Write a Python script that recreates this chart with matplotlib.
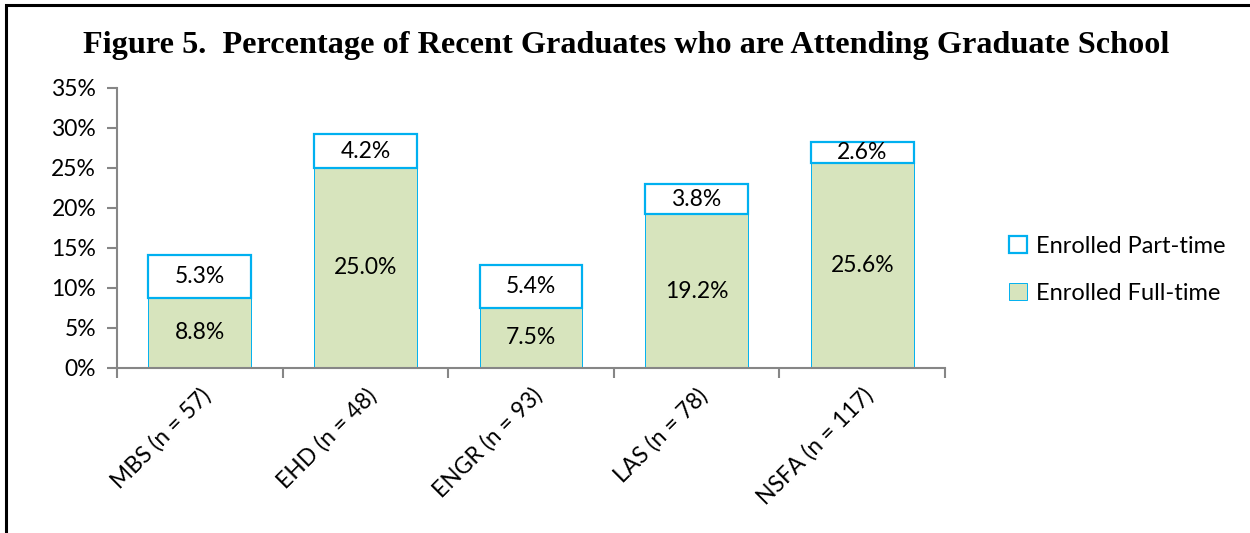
import matplotlib
matplotlib.use("Agg")
import matplotlib.pyplot as plt
from matplotlib.patches import Rectangle, Patch
import numpy as np

# data (percent)
categories = ["MBS (n = 57)", "EHD (n = 48)", "ENGR (n = 93)", "LAS (n = 78)", "NSFA (n = 117)"]
full_time = [8.8, 25.0, 7.5, 19.2, 25.6]
part_time = [5.3, 4.2, 5.4, 3.8, 2.6]

green = "#d7e4bd"
cyan = "#00b0f0"
grey = "#868686"
body_font = "Lato"
fs = 16.5

fig = plt.figure(figsize=(12.5, 5.33), dpi=100)
ax = fig.add_axes([117/1250, 1-368/533, (945-117)/1250, (368-88)/533])

x = np.arange(len(categories))
ax.bar(x, full_time, width=0.62, color=green, edgecolor=cyan, linewidth=0.7,
       label="Enrolled Full-time", zorder=2)
ax.bar(x, part_time, width=0.62, bottom=full_time, color="white", edgecolor=cyan,
       linewidth=1.6, label="Enrolled Part-time", zorder=2)

for i in range(len(categories)):
    ax.text(x[i], full_time[i]/2, "%.1f%%" % full_time[i], ha="center", va="center",
            fontsize=fs, family=body_font, zorder=3)
    ax.text(x[i], full_time[i] + part_time[i]/2, "%.1f%%" % part_time[i], ha="center",
            va="center", fontsize=fs, family=body_font, zorder=3)

ax.set_xlim(-0.5, len(categories) - 0.5)
ax.set_ylim(0, 35)
ax.set_yticks(np.arange(0, 36, 5))
ax.set_yticklabels(["%d%%" % v for v in range(0, 36, 5)], fontsize=fs, family=body_font)
ax.set_xticks(x)
ax.set_xticklabels(categories, rotation=45, ha="right", va="top", rotation_mode="anchor",
                   fontsize=fs, family=body_font)
ax.set_xticks(np.arange(-0.5, len(categories)), minor=True)
ax.tick_params(axis="x", which="major", length=0, pad=12)
ax.tick_params(axis="x", which="minor", length=7, color=grey, width=1.5, direction="out")
ax.tick_params(axis="y", length=7, color=grey, width=1.5, direction="out", pad=8)

for s in ["top", "right"]:
    ax.spines[s].set_visible(False)
for s in ["left", "bottom"]:
    ax.spines[s].set_color(grey)
    ax.spines[s].set_linewidth(1.5)

handles = [Patch(facecolor="white", edgecolor=cyan, linewidth=1.6, label="Enrolled Part-time"),
           Patch(facecolor=green, edgecolor=cyan, linewidth=0.7, label="Enrolled Full-time")]
fig.legend(handles=handles, loc="center left", bbox_to_anchor=(988/1250, 1-270/533),
           frameon=False, prop={"family": body_font, "size": 17}, handlelength=0.75,
           handleheight=0.75, handletextpad=0.4, labelspacing=1.1)

fig.text(626/1250, 1-46/533, "Figure 5.  Percentage of Recent Graduates who are Attending Graduate School",
         ha="center", va="center", fontsize=23.2, fontweight="bold", family="Liberation Serif")

# page frame: top and left edges only are visible
fig.patches.append(Rectangle((6/1250, -0.1), 1.2, 1 - 5/533 + 0.1, transform=fig.transFigure,
                             fill=False, edgecolor="black", linewidth=2.2))

fig.savefig("out.png", dpi=100)
